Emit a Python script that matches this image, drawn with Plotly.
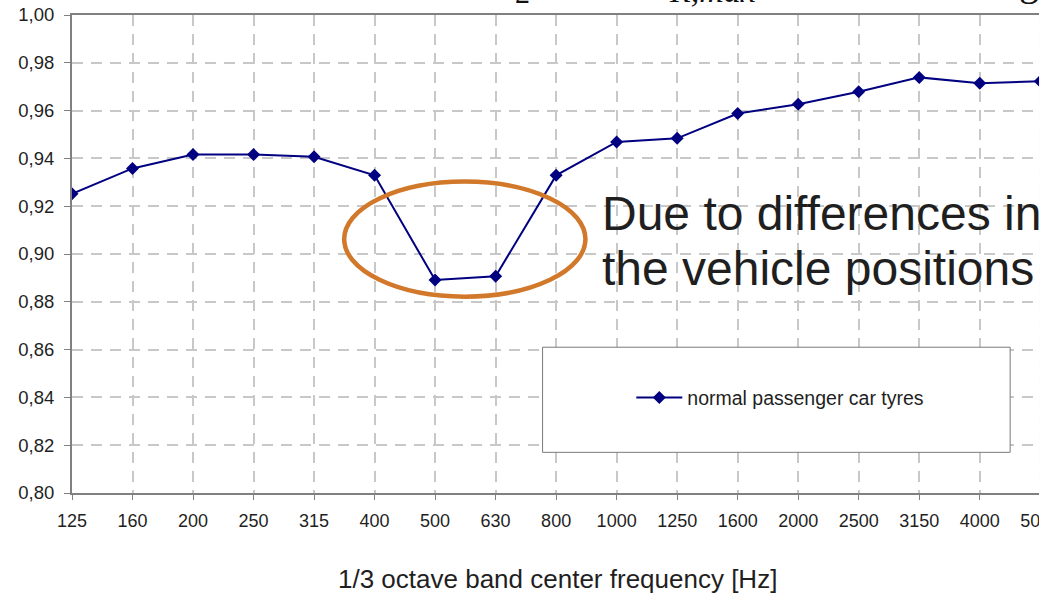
import plotly.graph_objects as go

# ---- data ----
freqs = ["125", "160", "200", "250", "315", "400", "500", "630", "800", "1000",
         "1250", "1600", "2000", "2500", "3150", "4000", "5000"]
r_values = [0.9252, 0.9358, 0.9416, 0.9416, 0.9407, 0.9329, 0.8891, 0.8907, 0.9329,
            0.9469, 0.9484, 0.9588, 0.9627, 0.9679, 0.9739, 0.9714, 0.9723]
series_name = "normal passenger car tyres"
y_ticks = [0.80, 0.82, 0.84, 0.86, 0.88, 0.90, 0.92, 0.94, 0.96, 0.98, 1.00]
x_title = "1/3 octave band center frequency [Hz]"
note_lines = ["Due to differences in", "the vehicle positions"]

# ---- geometry (pixels) ----
W, H = 1064, 596
L, R, T, B = 72, 4, 11, 103
PW = W - L - R
PH = H - T - B
STEP = 60.7  # category spacing in px


def px(x):
    return (x - L) / PW


def py(y):
    return (H - B - y) / PH


AX = "#808080"
GRID = "#c8c8c8"
TXT = "#1f1f1f"
FONT = "Liberation Sans, Arial, sans-serif"

fig = go.Figure()
fig.add_trace(go.Scatter(
    x=freqs, y=r_values, mode="lines+markers", name=series_name,
    line=dict(color="#000080", width=2),
    marker=dict(symbol="diamond", size=10, color="#000080"),
))

fig.update_layout(
    width=W, height=H,
    margin=dict(l=L, r=R, t=T, b=B, pad=0),
    paper_bgcolor="white", plot_bgcolor="white",
    separators=",.",
    font=dict(family=FONT, color=TXT, size=18),
    showlegend=True,
    legend=dict(
        x=px(633), y=py(397), xanchor="left", yanchor="middle",
        bgcolor="rgba(0,0,0,0)", borderwidth=0,
        font=dict(size=19.5, family=FONT, color=TXT),
        itemwidth=46,
    ),
)

fig.update_xaxes(
    type="category", range=[0, PW / STEP],
    showline=True, linecolor=AX, linewidth=2, mirror=True,
    ticks="outside", ticklen=5, tickcolor=AX, tickwidth=1,
    ticklabelstandoff=5,
    showgrid=True, gridcolor=GRID, gridwidth=1.5, griddash="11px,8px",
    tickfont=dict(size=18, family=FONT, color=TXT),
    zeroline=False,
)
fig.update_yaxes(
    range=[0.80, 1.00], tickvals=y_ticks, tickformat=".2f",
    showline=True, linecolor=AX, linewidth=2,
    ticks="outside", ticklen=6, tickcolor=AX, tickwidth=1,
    ticklabelstandoff=6,
    showgrid=True, gridcolor=GRID, gridwidth=1.5, griddash="11px,8px",
    tickfont=dict(size=18.5, family=FONT, color=TXT),
    zeroline=False,
)

shapes = [
    # legend frame
    dict(type="rect", xref="paper", yref="paper",
         x0=px(544), x1=px(1013), y0=py(452), y1=py(346),
         line=dict(color="#7a7a7a", width=1), fillcolor="white", layer="above"),
    # orange ellipse
    dict(type="circle", xref="paper", yref="paper",
         x0=px(345), x1=px(587), y0=py(295), y1=py(179),
         line=dict(color="#D2782B", width=4.5), layer="above"),
    # cropped right edge
    dict(type="rect", xref="paper", yref="paper",
         x0=px(1042), x1=px(1070), y0=-0.3, y1=1.05,
         line=dict(width=0), fillcolor="white", layer="above"),
]
fig.update_layout(shapes=shapes)

ann = [
    dict(text=x_title, x=px(559), y=py(580), xref="paper", yref="paper",
         xanchor="center", yanchor="middle", showarrow=False,
         font=dict(size=26, family=FONT, color=TXT)),
    dict(text=note_lines[0], x=px(602), y=py(211), xref="paper", yref="paper",
         xanchor="left", yanchor="middle", showarrow=False,
         font=dict(size=48, family=FONT, color=TXT)),
    dict(text=note_lines[1], x=px(602), y=py(266.5), xref="paper", yref="paper",
         xanchor="left", yanchor="middle", showarrow=False,
         font=dict(size=48, family=FONT, color=TXT)),
    # cut-off fragments of the slide title above the chart
    dict(text="2", x=px(524), y=py(7), xref="paper", yref="paper",
         xanchor="center", yanchor="bottom", showarrow=False,
         font=dict(size=30, family="Liberation Serif, serif", color="#111")),
    dict(text="<i>R,max</i>", x=px(714), y=py(7), xref="paper", yref="paper",
         xanchor="center", yanchor="bottom", showarrow=False,
         font=dict(size=34, family="Liberation Serif, serif", color="#111")),
    dict(text="g", x=px(1032), y=py(2), xref="paper", yref="paper",
         xanchor="center", yanchor="bottom", showarrow=False,
         font=dict(size=40, family="Liberation Serif, serif", color="#111")),
]
fig.update_layout(annotations=ann)

fig.write_html("out.html", config={"displayModeBar": False},
               post_script="document.body.style.margin='0';document.body.style.padding='0';")
